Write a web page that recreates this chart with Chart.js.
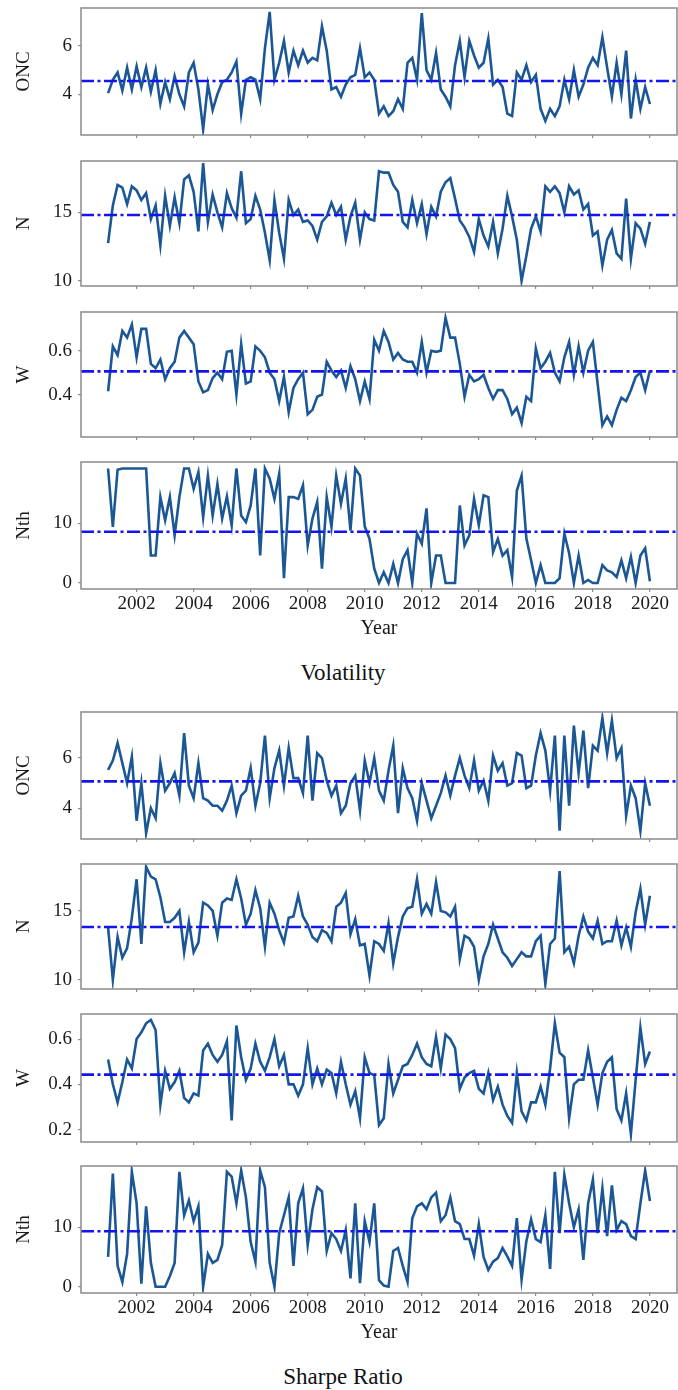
<!DOCTYPE html>
<html>
<head>
<meta charset="utf-8">
<title>Volatility and Sharpe Ratio</title>
<script src="https://cdn.jsdelivr.net/npm/chart.js@4.4.1/dist/chart.umd.min.js"></script>
<style>
  html, body { margin: 0; padding: 0; background: #fff; }
  body { position: relative; width: 678px; height: 1390px; overflow: hidden; }
  canvas { position: absolute; left: 0; }
  .caption {
    position: absolute; left: 193px; width: 300px; text-align: center;
    font-family: "Liberation Serif", serif; font-size: 23px; line-height: 26px; color: #111;
  }
</style>
</head>
<body>
<div class="caption" style="top:660px">Volatility</div>
<div class="caption" style="top:1364px">Sharpe Ratio</div>
<script>
  // one value every two months, Jan 2001 .. Jan 2020
  var startYear = 2001;
  var monthsPerStep = 2;
  var yearTicks = [2002, 2004, 2006, 2008, 2010, 2012, 2014, 2016, 2018, 2020];
  var panelNames = ['ONC', 'N', 'W', 'Nth'];

  var volONC = [
    4.05, 4.6, 4.9, 4.15, 5.1, 4.2,   5.15, 4.3, 5.1, 4.1, 5.0, 3.6,
    4.5, 3.8, 4.75, 4.0, 3.5, 4.9,    5.3, 4.2, 2.55, 4.4, 3.35, 4.0,
    4.5, 4.6, 4.9, 5.35, 3.2, 4.6,    4.7, 4.6, 3.8, 5.9, 7.4, 4.6,
    5.3, 6.2, 4.9, 5.8, 5.2, 5.8,     5.3, 5.5, 5.4, 6.8, 5.8, 4.2,
    4.3, 3.9, 4.4, 4.7, 4.8, 5.9,     4.7, 4.9, 4.6, 3.2, 3.5, 3.1,
    3.3, 3.8, 3.4, 5.3, 5.5, 4.6,     7.35, 5.0, 4.6, 5.7, 4.2, 3.9,
    3.5, 5.2, 6.2, 4.7, 6.2, 5.6,     5.1, 5.3, 6.3, 4.4, 4.6, 4.3,
    3.2, 3.1, 4.9, 4.6, 5.2, 4.5,     4.8, 3.4, 2.9, 3.4, 3.1, 3.5,
    4.6, 3.8, 5.0, 3.9, 4.4, 5.1,     5.5, 5.2, 6.35, 5.1, 3.9, 5.3,
    4.0, 5.8, 3.0, 4.6, 3.4, 4.3,     3.6
  ];
  var volN = [
    12.75, 15.5, 17.0, 16.8, 15.6, 16.9,  16.6, 15.9, 16.4, 14.5, 15.5, 12.6,
    16.2, 14.0, 16.1, 14.2, 17.4, 17.7,   16.5, 13.6, 18.6, 14.3, 16.3, 15.0,
    13.9, 16.4, 15.3, 14.6, 18.0, 14.2,   14.5, 16.2, 15.2, 13.5, 11.5, 15.9,
    13.5, 11.6, 15.9, 14.8, 15.2, 14.3,   14.4, 14.0, 13.0, 14.3, 14.7, 15.7,
    14.8, 15.4, 13.0, 14.7, 15.7, 13.0,   15.0, 14.5, 14.4, 18.0, 17.9, 17.9,
    17.0, 16.5, 14.3, 13.9, 15.9, 14.2,   15.6, 13.4, 15.4, 14.7, 16.5, 17.2,
    17.5, 16.0, 14.4, 13.9, 13.2, 12.1,   14.5, 13.3, 12.5, 14.3, 12.0, 13.8,
    16.2, 14.7, 13.0, 10.0, 11.8, 13.8,   14.7, 13.6, 16.9, 16.5, 16.9, 16.4,
    15.0, 16.9, 16.3, 16.6, 15.2, 15.6,   13.3, 13.6, 11.1, 13.0, 13.7, 12.0,
    11.6, 16.0, 11.6, 14.2, 13.8, 12.7,   14.3
  ];
  var volW = [
    0.415, 0.62, 0.58, 0.69, 0.66, 0.72,  0.57, 0.70, 0.70, 0.54, 0.52, 0.56,
    0.47, 0.52, 0.55, 0.66, 0.69, 0.66,   0.63, 0.46, 0.41, 0.42, 0.475, 0.50,
    0.47, 0.595, 0.60, 0.40, 0.63, 0.45,  0.46, 0.62, 0.60, 0.57, 0.50, 0.47,
    0.37, 0.48, 0.32, 0.43, 0.47, 0.50,   0.31, 0.33, 0.39, 0.40, 0.55, 0.51,
    0.48, 0.51, 0.43, 0.53, 0.47, 0.37,   0.46, 0.38, 0.65, 0.60, 0.69, 0.64,
    0.56, 0.59, 0.56, 0.55, 0.55, 0.50,   0.64, 0.50, 0.60, 0.595, 0.60, 0.75,
    0.66, 0.66, 0.54, 0.39, 0.49, 0.46,   0.47, 0.49, 0.43, 0.38, 0.42, 0.42,
    0.38, 0.31, 0.34, 0.27, 0.39, 0.37,   0.61, 0.52, 0.55, 0.59, 0.50, 0.46,
    0.57, 0.64, 0.49, 0.62, 0.50, 0.60,   0.64, 0.45, 0.26, 0.30, 0.26, 0.33,
    0.385, 0.37, 0.42, 0.48, 0.50, 0.42,  0.51
  ];
  var volNth = [
    19.2, 9.4, 19.0, 19.2, 19.2, 19.2,    19.2, 19.2, 19.2, 4.6, 4.6, 14.4,
    10.5, 14.4, 8.0, 14.4, 19.2, 19.2,    15.8, 18.6, 11.0, 18.0, 11.3, 16.6,
    10.8, 14.5, 9.7, 19.2, 11.3, 10.2,    13.0, 19.2, 4.6, 19.2, 17.5, 14.1,
    18.3, 0.8, 14.4, 14.4, 14.1, 16.4,    6.3, 10.8, 13.6, 2.4, 14.4, 9.4,
    18.0, 13.3, 17.5, 8.8, 19.2, 18.0,    9.5, 7.4, 2.4, 0, 1.8, 0,
    3.2, 0, 4.0, 5.5, 0, 8.3,             6.6, 12.5, 0, 4.6, 4.6, 0,
    0, 0, 13.0, 6.3, 8.0, 14.1,           9.7, 14.7, 14.4, 5.2, 7.4, 4.6,
    5.5, 1.0, 15.5, 18.0, 7.5, 3.8,       0, 3.0, 0, 0, 0, 0.8,
    8.3, 5.0, 0, 4.6, 0, 0.5,             0, 0, 3.0, 2.1, 1.8, 1.0,
    3.8, 0.8, 4.4, 0, 4.6, 5.8,           0.3
  ];

  var sharpeONC = [
    5.53, 5.9, 6.6, 5.8, 5.0, 6.05,   3.5, 5.0, 3.0, 4.0, 3.6, 5.8,
    4.7, 5.0, 5.4, 4.5, 7.0, 4.9,     4.4, 5.8, 4.4, 4.3, 4.1, 4.1,
    3.9, 4.3, 4.9, 3.8, 4.5, 4.7,     5.6, 4.1, 5.0, 6.9, 4.4, 5.6,
    6.3, 4.9, 6.4, 5.2, 5.2, 4.6,     6.9, 4.3, 6.2, 6.0, 5.1, 4.5,
    4.9, 3.8, 4.1, 5.0, 5.3, 3.9,     5.9, 5.0, 6.0, 4.7, 4.3, 5.5,
    6.5, 3.8, 5.6, 4.8, 4.4, 3.5,     5.0, 4.3, 3.6, 4.1, 4.6, 5.3,
    4.5, 5.3, 6.0, 5.3, 4.8, 5.9,     4.7, 5.1, 4.3, 6.1, 5.5, 5.8,
    4.9, 5.0, 6.2, 6.1, 4.8, 4.9,     6.1, 7.0, 6.3, 4.7, 6.9, 3.1,
    6.9, 4.1, 7.3, 5.4, 7.1, 4.8,     6.5, 6.3, 7.6, 6.2, 7.5, 6.0,
    6.4, 3.7, 4.9, 4.4, 3.1, 5.0,     4.1
  ];
  var sharpeN = [
    13.8, 10.0, 13.1, 11.6, 12.3, 14.5,   17.3, 12.6, 18.2, 17.5, 17.3, 16.0,
    14.2, 14.2, 14.5, 15.0, 12.0, 14.2,   12.0, 12.7, 15.6, 15.4, 15.0, 13.2,
    15.6, 15.9, 15.8, 17.3, 15.9, 14.0,   14.8, 16.5, 15.2, 12.4, 15.6, 14.8,
    13.6, 12.7, 14.5, 14.6, 16.1, 14.6,   14.0, 13.1, 12.8, 13.6, 13.4, 12.8,
    15.3, 15.6, 16.3, 13.3, 14.4, 12.5,   12.6, 10.3, 12.8, 12.6, 12.1, 14.1,
    11.2, 13.1, 14.6, 15.2, 15.3, 17.3,   14.8, 15.5, 14.8, 17.1, 15.0, 14.9,
    14.6, 15.3, 11.5, 13.2, 13.0, 12.4,   10.0, 11.7, 12.6, 14.0, 13.0, 12.0,
    11.6, 11.0, 11.5, 12.0, 11.7, 11.7,   12.8, 13.2, 9.7, 12.6, 13.0, 17.9,
    12.0, 12.4, 11.2, 13.2, 14.6, 13.5,   13.0, 14.3, 12.6, 12.8, 12.8, 14.3,
    12.5, 13.8, 12.4, 14.9, 16.6, 14.0,   16.1
  ];
  var sharpeW = [
    0.51, 0.40, 0.32, 0.41, 0.51, 0.47,   0.60, 0.63, 0.67, 0.685, 0.64, 0.31,
    0.46, 0.38, 0.41, 0.46, 0.34, 0.32,   0.36, 0.35, 0.55, 0.58, 0.53, 0.50,
    0.53, 0.59, 0.24, 0.66, 0.52, 0.42,   0.47, 0.58, 0.50, 0.46, 0.52, 0.60,
    0.48, 0.53, 0.40, 0.40, 0.35, 0.40,   0.56, 0.40, 0.47, 0.40, 0.465, 0.45,
    0.36, 0.50, 0.40, 0.31, 0.37, 0.25,   0.52, 0.45, 0.44, 0.22, 0.25, 0.49,
    0.36, 0.42, 0.48, 0.49, 0.53, 0.58,   0.52, 0.49, 0.48, 0.61, 0.47, 0.62,
    0.60, 0.56, 0.38, 0.43, 0.45, 0.46,   0.38, 0.36, 0.45, 0.33, 0.39, 0.31,
    0.26, 0.23, 0.45, 0.28, 0.24, 0.32,   0.32, 0.39, 0.31, 0.47, 0.67, 0.54,
    0.52, 0.25, 0.40, 0.42, 0.42, 0.55,   0.43, 0.31, 0.45, 0.50, 0.52, 0.29,
    0.24, 0.36, 0.18, 0.42, 0.65, 0.49,   0.545
  ];
  var sharpeNth = [
    5.0, 19.0, 3.5, 0.8, 5.5, 19.3,       14.0, 0.5, 13.5, 4.0, 0, 0,
    0, 1.8, 4.0, 19.3, 12.0, 14.5,        11.0, 13.5, 0, 5.5, 4.0, 4.5,
    7.0, 19.3, 18.5, 14.0, 19.5, 15.0,    7.5, 4.2, 19.5, 16.7, 4.0, 0,
    9.0, 12.0, 15.0, 3.5, 14.0, 16.5,     7.0, 13.0, 16.7, 16.0, 6.0, 9.0,
    8.0, 6.0, 9.5, 1.4, 14.0, 0.6,        11.0, 7.5, 14.0, 1.1, 0.2, 0,
    6.0, 6.5, 3.5, 0.8, 11.5, 13.5,       14.0, 13.0, 15.0, 15.8, 11.0, 12.0,
    15.0, 11.0, 10.5, 8.0, 8.0, 5.2,      10.5, 5.0, 2.8, 4.2, 4.8, 6.5,
    5.1, 3.5, 11.5, 1.2, 7.6, 11.3,       8.0, 7.5, 12.0, 3.0, 19.3, 9.0,
    18.8, 14.0, 10.0, 13.0, 4.5, 14.0,    18.0, 9.0, 16.5, 8.5, 17.0, 9.5,
    11.0, 10.5, 8.5, 8.0, 14.0, 19.5,     14.4
  ];

  var volMeans = [4.55, 14.8, 0.506, 8.6];
  var sharpeMeans = [5.07, 13.83, 0.443, 9.3];
  var volYTicks = [[4, 6], [10, 15], [0.4, 0.6], [0, 10]];
  var sharpeYTicks = [[4, 6], [10, 15], [0.2, 0.4, 0.6], [0, 10]];

  // axis ranges and plot boxes (px) of the eight panels
  var xMin = 2000.05, xMax = 2020.95;
  var panels = [
    { series: volONC, mean: volMeans[0], name: panelNames[0], yTicks: volYTicks[0], yMin: 2.32, yMax: 7.56, top: 8, bottom: 135 },
    { series: volN, mean: volMeans[1], name: panelNames[1], yTicks: volYTicks[1], yMin: 9.61, yMax: 18.75, top: 161, bottom: 286 },
    { series: volW, mean: volMeans[2], name: panelNames[2], yTicks: volYTicks[2], yMin: 0.206, yMax: 0.777, top: 312, bottom: 437 },
    { series: volNth, mean: volMeans[3], name: panelNames[3], yTicks: volYTicks[3], yMin: -1.01, yMax: 20.29, top: 462, bottom: 589, years: true },
    { series: sharpeONC, mean: sharpeMeans[0], name: panelNames[0], yTicks: sharpeYTicks[0], yMin: 2.77, yMax: 7.84, top: 712, bottom: 839 },
    { series: sharpeN, mean: sharpeMeans[1], name: panelNames[1], yTicks: sharpeYTicks[1], yMin: 9.33, yMax: 18.41, top: 864, bottom: 989 },
    { series: sharpeW, mean: sharpeMeans[2], name: panelNames[2], yTicks: sharpeYTicks[2], yMin: 0.145, yMax: 0.711, top: 1014, bottom: 1142 },
    { series: sharpeNth, mean: sharpeMeans[3], name: panelNames[3], yTicks: sharpeYTicks[3], yMin: -1.06, yMax: 20.27, top: 1166, bottom: 1293, years: true }
  ];

  var serif = 'Liberation Serif';
  var lineBlue = '#1b5795';
  var meanBlue = '#1414ee';
  var frameGray = '#8a8a8a';
  Chart.defaults.color = '#1a1a1a';
  Chart.defaults.font.family = serif;

  var framePlugin = {
    id: 'frame',
    afterDraw: function (chart) {
      var a = chart.chartArea, ctx = chart.ctx;
      ctx.save();
      ctx.strokeStyle = frameGray;
      ctx.lineWidth = 1.5;
      ctx.strokeRect(a.left, a.top, a.right - a.left, a.bottom - a.top);
      ctx.restore();
    }
  };

  function fixedTicks(values) {
    return function (axis) {
      axis.ticks = values.map(function (v) { return { value: v }; });
    };
  }

  function drawPanel(p) {
    var padTop = 30;
    var axisH = p.years ? 56 : 30;
    var canvas = document.createElement('canvas');
    canvas.width = 678;
    canvas.height = padTop + (p.bottom - p.top) + axisH;
    canvas.style.top = (p.top - padTop) + 'px';
    document.body.appendChild(canvas);

    var points = p.series.map(function (v, i) {
      return { x: startYear + i * monthsPerStep / 12, y: v };
    });

    new Chart(canvas, {
      type: 'line',
      data: {
        datasets: [
          { data: points, borderColor: lineBlue, borderWidth: 2.6, pointRadius: 0, tension: 0, order: 1 },
          { data: [{ x: xMin, y: p.mean }, { x: xMax, y: p.mean }], borderColor: meanBlue, borderWidth: 2.6,
            borderDash: [13, 3.5, 3, 3.5], pointRadius: 0, order: 0 }
        ]
      },
      options: {
        responsive: false,
        animation: false,
        events: [],
        layout: { padding: { top: padTop, right: 1, bottom: 0, left: 0 } },
        plugins: { legend: { display: false }, tooltip: { enabled: false } },
        scales: {
          x: {
            type: 'linear', min: xMin, max: xMax,
            afterBuildTicks: fixedTicks(yearTicks),
            afterFit: function (s) { s.height = axisH; },
            border: { display: false },
            grid: { drawOnChartArea: false, tickLength: 3, color: frameGray, lineWidth: 1.2 },
            ticks: { display: !!p.years, padding: 1, font: { size: 19 }, maxRotation: 0,
                     callback: function (v) { return String(v); } },
            title: { display: !!p.years, text: 'Year', font: { size: 20 }, padding: { top: 0, bottom: 4 } }
          },
          y: {
            type: 'linear', min: p.yMin, max: p.yMax,
            afterBuildTicks: fixedTicks(p.yTicks),
            afterFit: function (s) { s.width = 81; },
            border: { display: false },
            grid: { drawOnChartArea: false, tickLength: 3, color: frameGray, lineWidth: 1.2 },
            ticks: { padding: 6, font: { size: 19 }, callback: function (v) { return String(v); } },
            title: { display: true, text: p.name, font: { size: 19 }, padding: { top: 13, bottom: 0 } }
          }
        }
      },
      plugins: [framePlugin]
    });
  }

  panels.forEach(drawPanel);
</script>
</body>
</html>
